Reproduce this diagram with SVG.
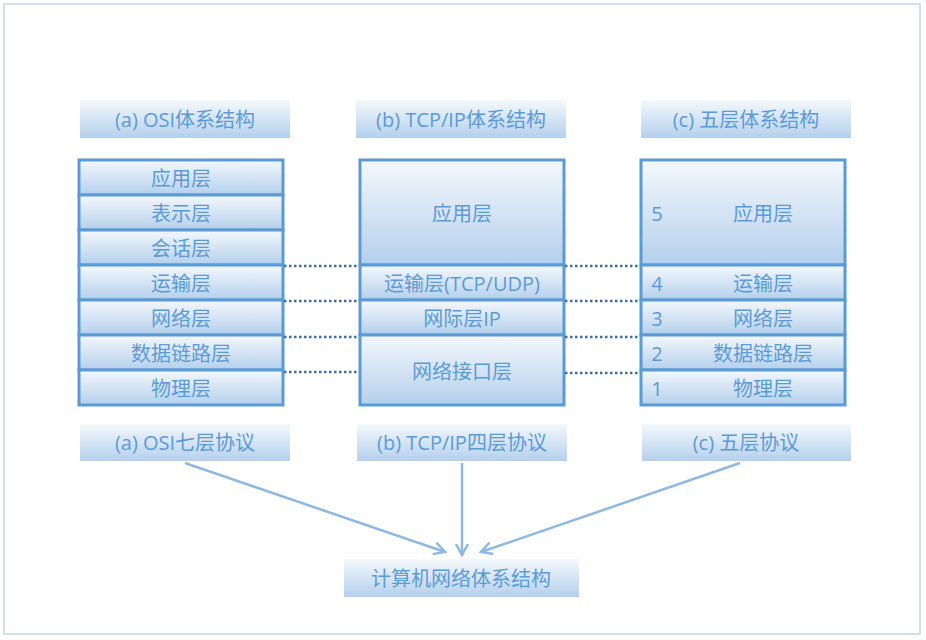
<svg xmlns="http://www.w3.org/2000/svg" width="926" height="640" viewBox="0 0 926 640">
<defs>
<linearGradient id="g" x1="0" y1="0" x2="0" y2="1"><stop offset="0" stop-color="#f4f8fc"/><stop offset="1" stop-color="#b4d0ec"/></linearGradient>
<marker id="ah" markerWidth="14" markerHeight="14" refX="12" refY="7" orient="auto" markerUnits="userSpaceOnUse"><path d="M1,1 L12,7 L1,13" fill="none" stroke="#8db8e2" stroke-width="2.5"/></marker>
</defs>
<style>
text{font-family:"Open Sans","Noto Sans CJK SC",sans-serif;font-size:20px;fill:#5b9bd5;text-anchor:middle;dominant-baseline:central}
.l{fill:url(#g)}
.c{fill:url(#g);stroke:#5b9bd5;stroke-width:3}
.d{stroke:#3f6f9f;stroke-width:2.5;stroke-dasharray:2.5 2.5;fill:none}
.a{stroke:#8db8e2;stroke-width:2.5;fill:none;marker-end:url(#ah)}
</style>
<rect x="4" y="4" width="916" height="630" fill="#fff" stroke="#d5dfe9" stroke-width="2"/>
<g id="titles">
<rect class="l" x="80" y="100" width="210" height="38"/><text x="185" y="119">(a) OSI体系结构</text>
<rect class="l" x="356" y="100" width="210" height="38"/><text x="461" y="119">(b) TCP/IP体系结构</text>
<rect class="l" x="641" y="100" width="210" height="38"/><text x="746" y="119">(c) 五层体系结构</text>
</g>
<g id="osi">
<rect class="c" x="79" y="160" width="204" height="35"/><text x="181" y="178">应用层</text>
<rect class="c" x="79" y="195" width="204" height="35"/><text x="181" y="213">表示层</text>
<rect class="c" x="79" y="230" width="204" height="35"/><text x="181" y="248">会话层</text>
<rect class="c" x="79" y="265" width="204" height="35"/><text x="181" y="283">运输层</text>
<rect class="c" x="79" y="300" width="204" height="35"/><text x="181" y="318">网络层</text>
<rect class="c" x="79" y="335" width="204" height="35"/><text x="181" y="353">数据链路层</text>
<rect class="c" x="79" y="370" width="204" height="35"/><text x="181" y="388">物理层</text>
</g>
<g id="tcpip">
<rect class="c" x="360" y="160" width="204" height="105"/><text x="462" y="213">应用层</text>
<rect class="c" x="360" y="265" width="204" height="35"/><text x="462" y="283">运输层(TCP/UDP)</text>
<rect class="c" x="360" y="300" width="204" height="35"/><text x="462" y="318">网际层IP</text>
<rect class="c" x="360" y="335" width="204" height="70"/><text x="462" y="371">网络接口层</text>
</g>
<g id="five">
<rect class="c" x="641" y="160" width="204" height="105"/><text x="657" y="213">5</text><text x="763" y="213">应用层</text>
<rect class="c" x="641" y="265" width="204" height="35"/><text x="657" y="283">4</text><text x="763" y="283">运输层</text>
<rect class="c" x="641" y="300" width="204" height="35"/><text x="657" y="318">3</text><text x="763" y="318">网络层</text>
<rect class="c" x="641" y="335" width="204" height="35"/><text x="657" y="353">2</text><text x="763" y="353">数据链路层</text>
<rect class="c" x="641" y="370" width="204" height="35"/><text x="657" y="388">1</text><text x="763" y="388">物理层</text>
</g>
<g id="bottom">
<rect class="l" x="80" y="424" width="210" height="37"/><text x="185" y="442">(a) OSI七层协议</text>
<rect class="l" x="357" y="424" width="210" height="37"/><text x="462" y="442">(b) TCP/IP四层协议</text>
<rect class="l" x="642" y="424" width="209" height="37"/><text x="746" y="442">(c) 五层协议</text>
<rect class="l" x="344" y="559" width="235" height="38"/><text x="461" y="578">计算机网络体系结构</text>
</g>
<g id="connectors">
<path class="d" d="M284,266H359M284,301H359M284,337H359M284,372H359M565,266H640M565,301H640M565,337H640M565,373H640"/>
<path class="a" d="M185,463L445,552"/>
<path class="a" d="M462,463L462,555"/>
<path class="a" d="M740,463L481,552"/>
</g>
</svg>
